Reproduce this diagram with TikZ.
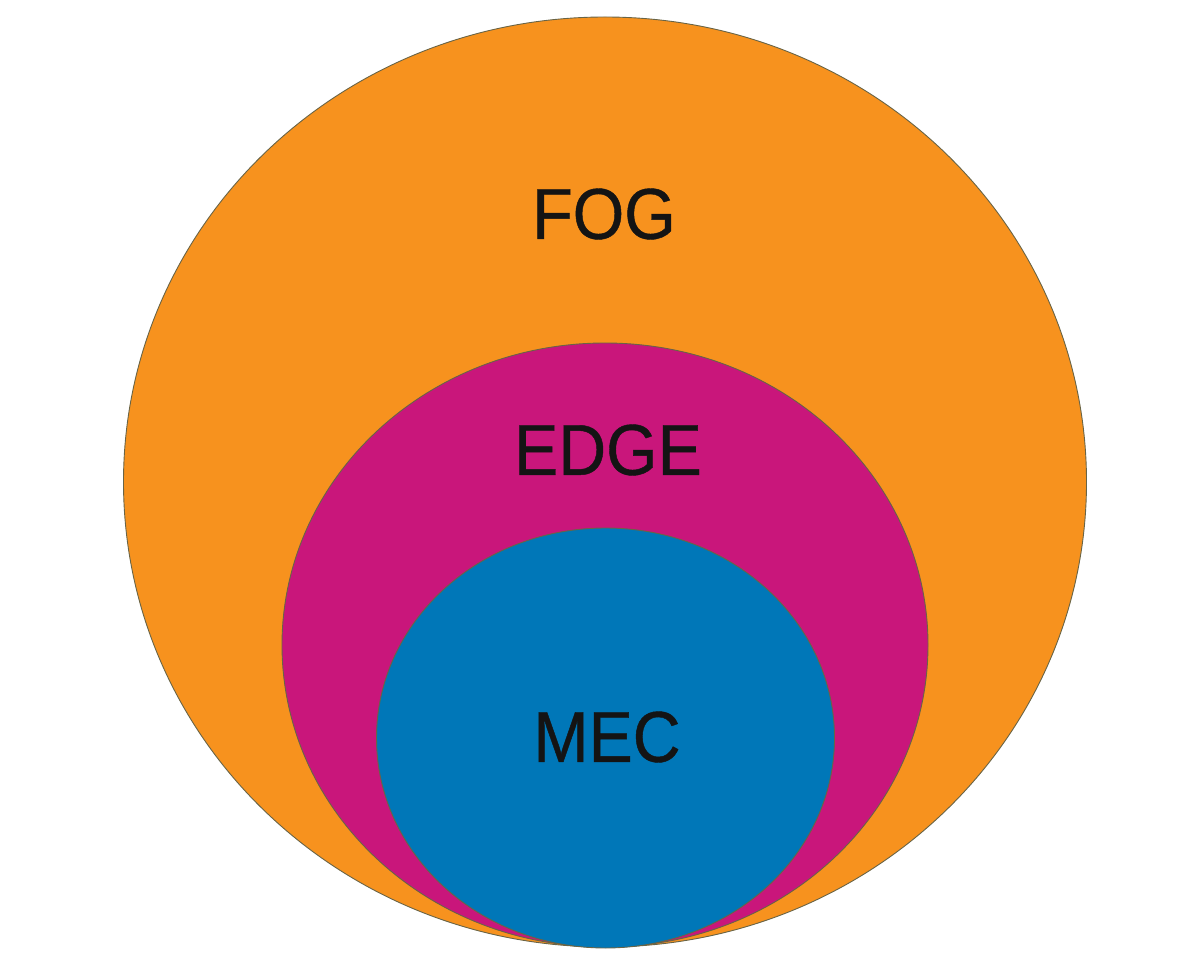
\documentclass[tikz,border=0pt]{standalone}
\usepackage{fontspec}
\setmainfont[FakeStretch=0.92,FakeBold=0.6]{Liberation Sans}
\usetikzlibrary{shapes.geometric}
\definecolor{fogc}{RGB}{247,146,30}
\definecolor{edgec}{RGB}{201,22,123}
\definecolor{mecc}{RGB}{0,119,184}
\definecolor{rimc}{RGB}{105,100,70}
\tikzset{
  zone/.style={ellipse, draw=rimc, line width=0.9pt, inner sep=0pt},
  zlabel/.style={font=\fontsize{72}{80}\selectfont, text=black!92, inner sep=0pt}
}
\begin{document}
\begin{tikzpicture}[x=1pt,y=-1pt]
\useasboundingbox (0,0) rectangle (1204,973);
\node[zone, fill=fogc, minimum width=963pt, minimum height=930pt] (fog) at (605,482) {};
\node[zone, fill=edgec, minimum width=646pt, minimum height=604pt] (edge) at (605,645) {};
\node[zone, fill=mecc, minimum width=458pt, minimum height=420pt] (mec) at (605.5,738) {};
\node[zlabel] (fogt) at (604,214) {FOG};
\node[zlabel] (edget) at (608,450) {EDGE};
\node[zlabel] (mect) at (607,737) {MEC};
\end{tikzpicture}
\end{document}
